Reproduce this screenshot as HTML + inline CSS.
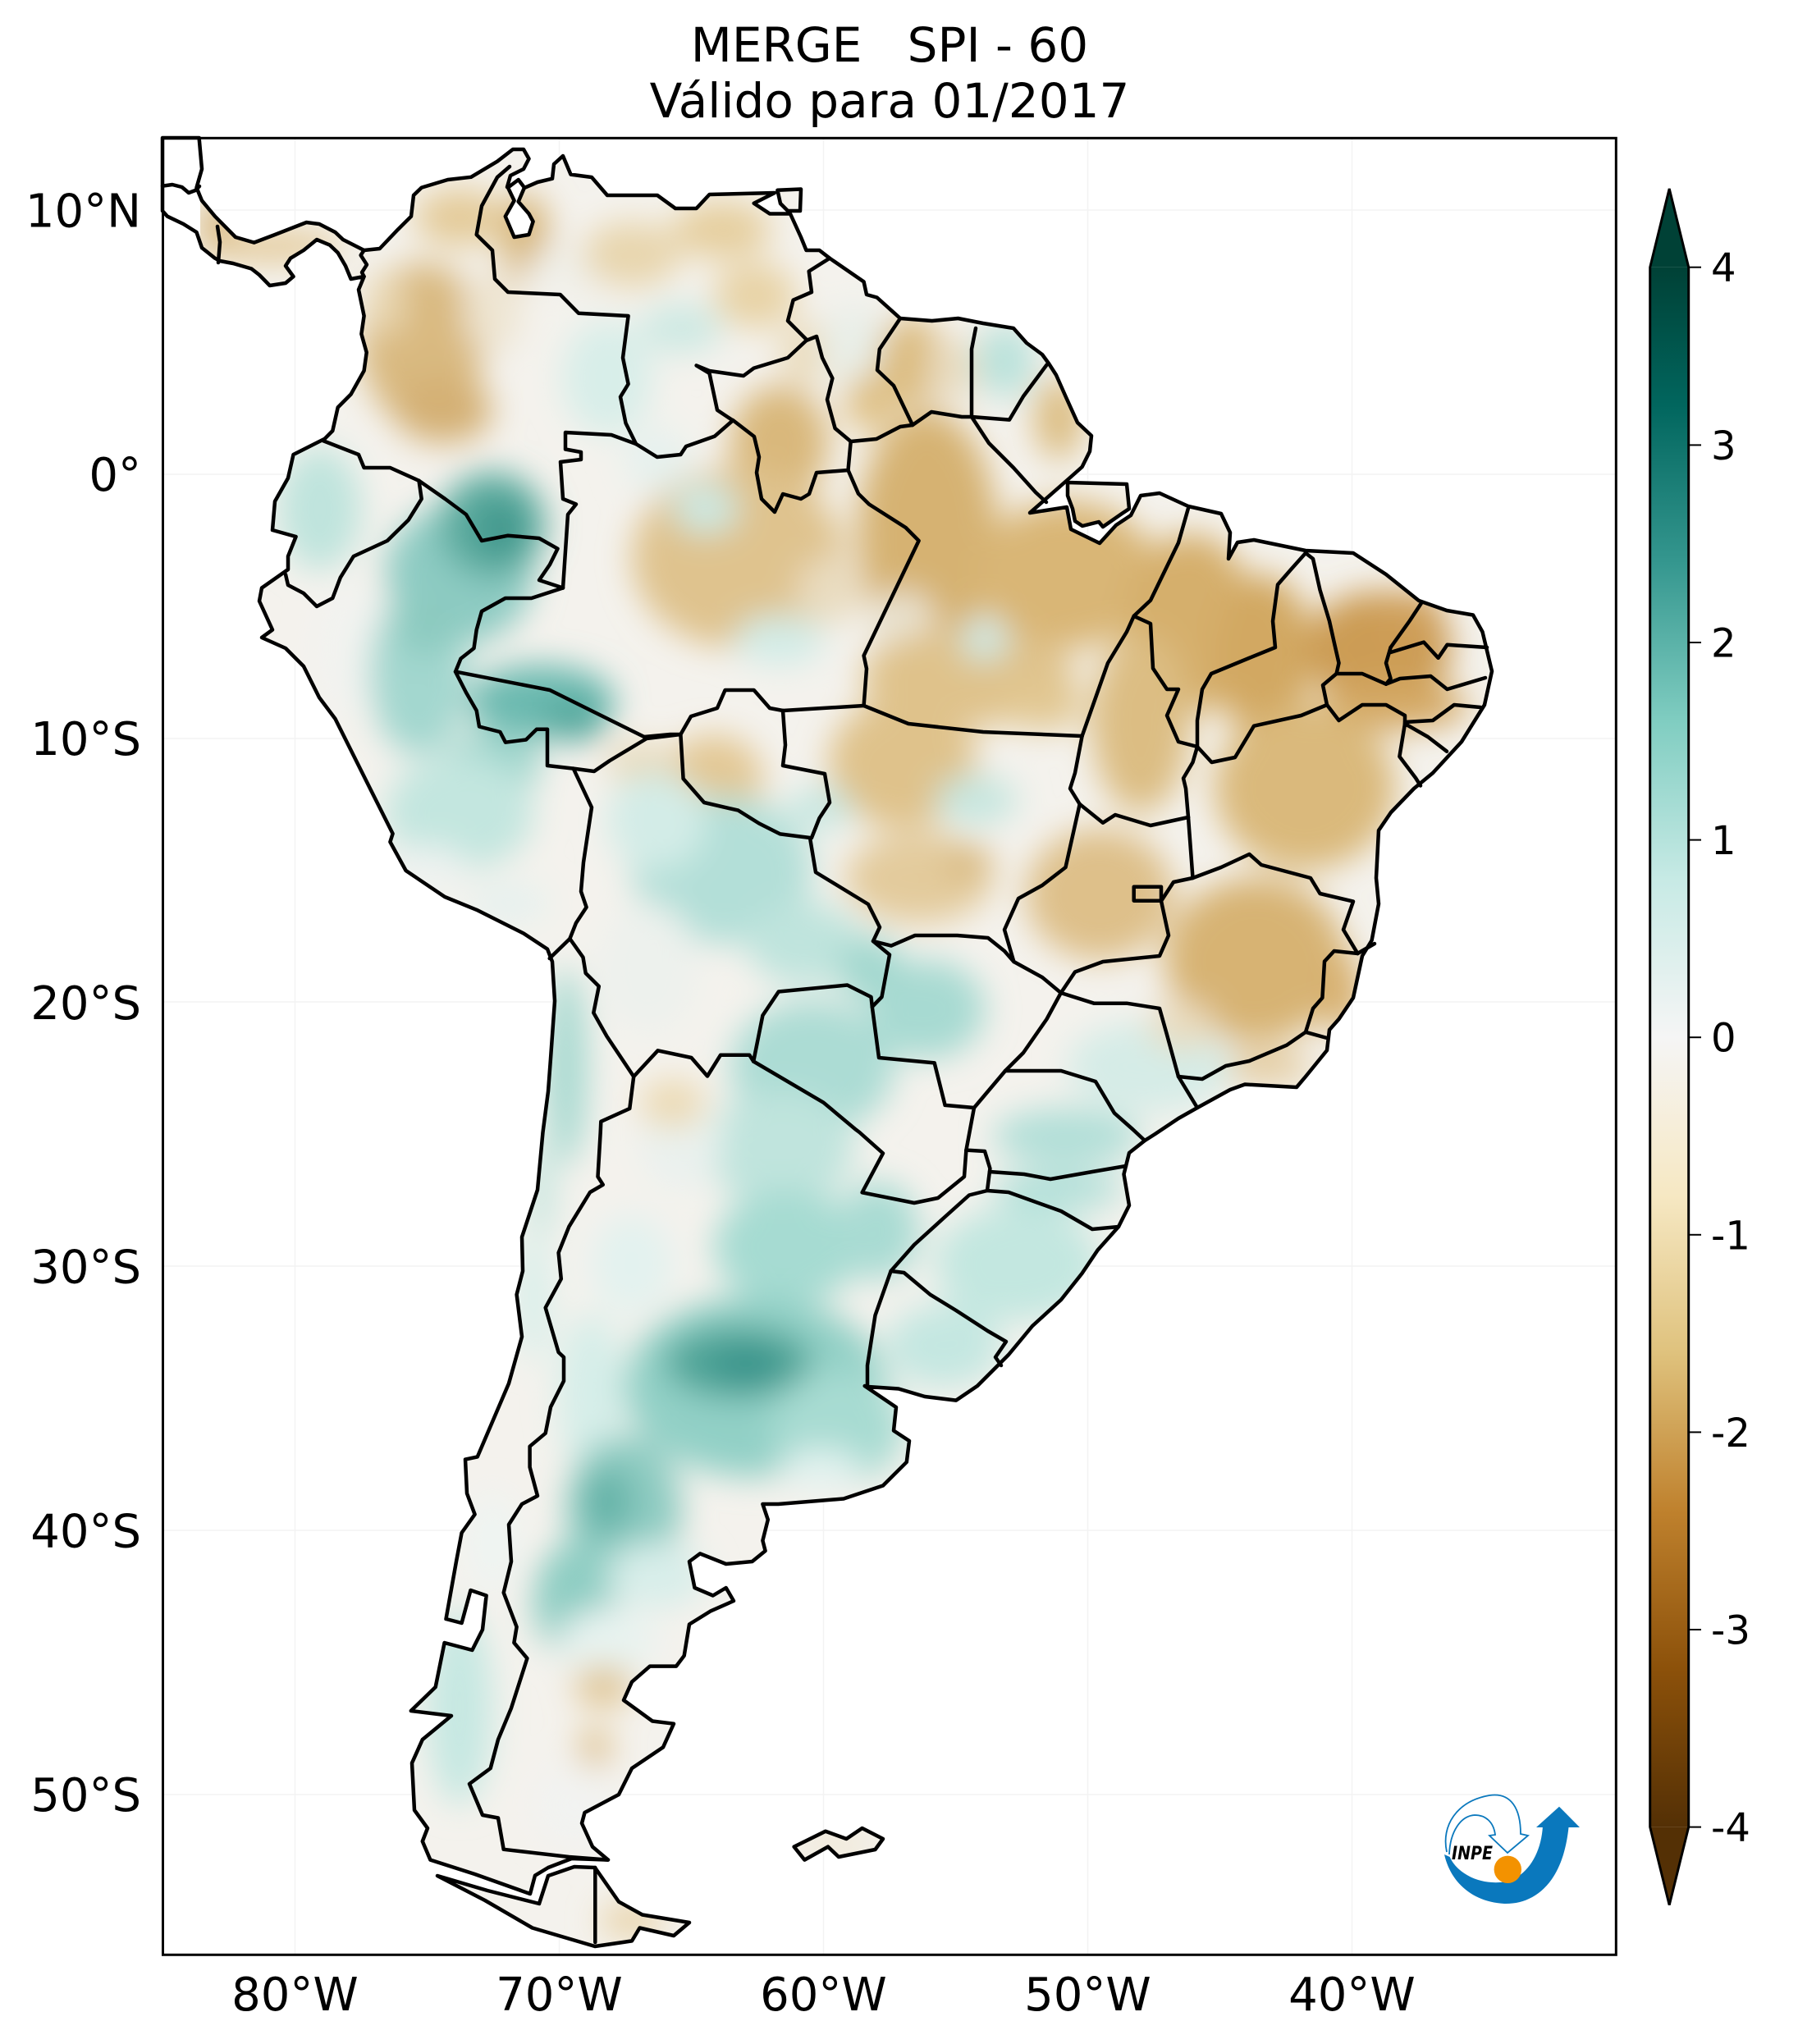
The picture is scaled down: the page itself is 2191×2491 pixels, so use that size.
<!DOCTYPE html>
<html><head><meta charset="utf-8"><style>
html,body{margin:0;padding:0;background:#fff;}
svg{display:block;}
text{font-family:"DejaVu Sans","Liberation Sans",sans-serif;fill:#000;}
</style></head><body>
<svg width="2191" height="2491" viewBox="0 0 2191 2491" xmlns="http://www.w3.org/2000/svg">
<defs>
<path id="land" d="M198,168 L242.6,168 246,206 239.5,228.6 246,244.5 262,263.7 287,289 309.6,295.6 335,286 373.4,271 389,273 408.5,283 418,292 443.6,305 462.7,303 485,279.6 501,263.7 504,238 513.7,228.6 545.6,219 574,215.8 606,196.7 625,182 638,182 644.5,193.5 638,206 622,214 618,228 632,232 655,222 673,217.7 675,200 686,190 695.5,212.6 721,216 740,238 801,238 823,254 848.6,254 864.5,237 944,235 918.7,247.7 938,260.5 963,260.5 976,289 982.5,305 998.5,305 1011,314.7 1052.6,343.4 1056,359 1068.6,362.5 1097,388 1135.6,391 1167.5,388 1198,394 1235,400 1251,418 1270,432 1278,443 1287,457 1298.5,483 1313,515 1330,531 1328,550 1318.6,569 1304,582 1255,625 1300,618 1305,645 1340,662 1360,640 1378,628 1390,604 1413,601 1448,617 1488,626 1499,649 1497,681 1508,661 1528,658 1591,671 1649,674 1689,700 1729,732 1763,744 1795,749.5 1806.5,770 1818,818 1809,859 1781,904 1746,942 1723,961 1695,990 1680,1012 1677,1070 1680,1101.5 1671.6,1146 1660,1165 1649,1216 1631.5,1242 1620,1255 1617,1280 1591,1312 1580,1325 1517,1321.5 1499,1328 1459,1350 1436,1363 1407.6,1382 1395,1390 1376,1405 1369.5,1431 1376,1469 1363,1495 1337.6,1523.5 1318.4,1552 1293,1584 1258,1616 1229,1651 1210,1670 1191,1689 1165,1706.6 1127,1702 1095,1692.5 1058,1690 1053.7,1689 1092,1715 1089,1743.5 1108,1756 1104.8,1781.8 1076,1810.5 1028,1826.5 948.5,1833 929.4,1833 935.8,1852 929.4,1877.5 932.6,1890 916.6,1903 884.7,1906 853,1893.4 840,1903 846.5,1935 868.8,1944.5 884.7,1935 894,1951 865.6,1963.6 840,1979.5 833.7,2017.8 824,2030.6 792,2030.6 770,2049.7 760,2072 795,2097.5 821,2100.7 808,2129.4 770,2155 754,2187 712.5,2209 709,2222 722,2250.6 741,2266.6 696.6,2265 668,2276 652,2285.7 646,2308 578.6,2284 524.4,2266.6 514.8,2244 521,2228 505,2206 502,2148.6 514.8,2120 550,2091 500.8,2085 530.7,2056 541.6,2002 575.4,2011 588,1986 592.6,1944.5 573.5,1938 562.6,1978 543.5,1973 556,1903 562.6,1868 578.6,1845.6 569,1820 567,1778.6 581.8,1775.4 620,1686 636,1629 629.6,1577.7 637,1549 636,1507.6 655,1450 661.5,1380 668,1330 671,1290 676,1220 673,1172 667,1156.6 638,1137.5 580.7,1108.8 542,1093 494.6,1061 475.4,1026 478.6,1016 453,965 408.5,876 389,850 370,812 348,790 319,777 332,767.5 316,732.5 319,716.5 351,694 351,678 360.6,654 332,646 335,611 351,582.6 357.5,554 395.7,534.7 405.3,525 411.7,496.5 427.6,480.5 443.6,451.8 446.7,429.5 440.4,407 443.6,384.9 437,353 443.6,337 427.6,340 421,324 411.7,308 402,298.7 386,292 370,305 354,314.7 348,324 357.5,337 348,345 328.7,348 316,335 306.4,327.5 284,321 268,318 262,314.7 246,302 239.5,283 223.5,273 204,263.7 198,257 Z"/>
<path id="tdf" d="M533,2286 L591,2316 648.7,2349.5 725,2372 770,2365.4 779.5,2349.5 821,2359 840,2343 782.7,2333.5 754,2317.6 725,2276 699.8,2275 668,2286 657,2320 594,2304 Z"/>
<path id="marajo" d="M1301,588 L1373,590 1376,620 1367,626 1344,642 1339,636 1319,641 1310,635 1307,620 1301,604 Z"/>
<path id="trin" d="M947.4,231.8 L976,230.5 975,257 960,257 951,248 Z"/>
<path id="falk" d="M967.6,2250.6 L1006,2231.7 1031.4,2241 1050.6,2228 1076,2241 1066.5,2254 1022,2263 1009,2250.6 980.4,2266.6 Z"/>
<clipPath id="landclip"><use href="#land"/><use href="#tdf"/><use href="#marajo"/><use href="#trin"/><use href="#falk"/></clipPath>
<filter id="blur" filterUnits="userSpaceOnUse" x="0" y="0" width="2191" height="2491"><feGaussianBlur stdDeviation="20"/></filter>
<linearGradient id="cb" x1="0" y1="0" x2="0" y2="1">
<stop offset="0" stop-color="#004136"/>
<stop offset="0.0886" stop-color="#01665e"/>
<stop offset="0.1899" stop-color="#35978f"/>
<stop offset="0.2911" stop-color="#80cdc1"/>
<stop offset="0.3924" stop-color="#c7eae5"/>
<stop offset="0.4937" stop-color="#f5f5f5"/>
<stop offset="0.5949" stop-color="#f6e8c3"/>
<stop offset="0.6962" stop-color="#dfc27d"/>
<stop offset="0.7975" stop-color="#bf812d"/>
<stop offset="0.8987" stop-color="#8c510a"/>
<stop offset="1" stop-color="#543005"/>
</linearGradient>
</defs>

<rect x="0" y="0" width="2191" height="2491" fill="#fff"/>

<g stroke="#f3f3f3" stroke-width="1.5" fill="none">
<line x1="359.5" y1="168" x2="359.5" y2="2382"/><line x1="681.5" y1="168" x2="681.5" y2="2382"/><line x1="1003.5" y1="168" x2="1003.5" y2="2382"/><line x1="1325.5" y1="168" x2="1325.5" y2="2382"/><line x1="1647.5" y1="168" x2="1647.5" y2="2382"/>
<line x1="198" y1="256" x2="1969" y2="256"/><line x1="198" y1="578" x2="1969" y2="578"/><line x1="198" y1="900" x2="1969" y2="900"/><line x1="198" y1="1221" x2="1969" y2="1221"/><line x1="198" y1="1543" x2="1969" y2="1543"/><line x1="198" y1="1865" x2="1969" y2="1865"/><line x1="198" y1="2187" x2="1969" y2="2187"/>
</g>

<g clip-path="url(#landclip)">
<rect x="190" y="160" width="1700" height="2230" fill="#f4f2ed"/>
<g filter="url(#blur)">
<ellipse cx="330" cy="300" rx="90" ry="18" fill="#e3c894"/>
<ellipse cx="265" cy="270" rx="20" ry="30" fill="#d6b274"/>
<ellipse cx="560" cy="265" rx="55" ry="35" fill="#e4cb99"/>
<ellipse cx="515" cy="420" rx="75" ry="100" fill="#d9b980"/>
<ellipse cx="540" cy="500" rx="60" ry="40" fill="#d4b075"/>
<ellipse cx="470" cy="370" rx="25" ry="40" fill="#e8d6b0"/>
<ellipse cx="640" cy="290" rx="30" ry="55" fill="#d8b77c"/>
<ellipse cx="600" cy="380" rx="35" ry="50" fill="#eee5d2"/>
<ellipse cx="700" cy="330" rx="60" ry="30" fill="#f0f0ea"/>
<ellipse cx="770" cy="310" rx="60" ry="40" fill="#e8d6ae"/>
<ellipse cx="880" cy="280" rx="60" ry="35" fill="#e6cf9f"/>
<ellipse cx="830" cy="400" rx="50" ry="30" fill="#cde9e3"/>
<ellipse cx="920" cy="360" rx="50" ry="40" fill="#e8d3a6"/>
<ellipse cx="980" cy="430" rx="30" ry="40" fill="#eadbbb"/>
<ellipse cx="1040" cy="420" rx="40" ry="50" fill="#e9efe9"/>
<ellipse cx="1060" cy="490" rx="30" ry="35" fill="#dfc083"/>
<ellipse cx="1110" cy="440" rx="40" ry="55" fill="#dcbc7f"/>
<ellipse cx="1160" cy="450" rx="30" ry="40" fill="#e8dbc0"/>
<ellipse cx="1225" cy="440" rx="35" ry="45" fill="#b9e2db"/>
<ellipse cx="1290" cy="510" rx="30" ry="50" fill="#dcbd82"/>
<ellipse cx="950" cy="540" rx="60" ry="70" fill="#d9b87b"/>
<ellipse cx="740" cy="460" rx="55" ry="70" fill="#d8eee9"/>
<ellipse cx="800" cy="560" rx="40" ry="40" fill="#e6f1ee"/>
<ellipse cx="900" cy="680" rx="130" ry="110" fill="#dfc38e"/>
<ellipse cx="860" cy="620" rx="40" ry="30" fill="#cce9e3"/>
<ellipse cx="950" cy="780" rx="55" ry="30" fill="#d2ece7"/>
<ellipse cx="1010" cy="720" rx="40" ry="40" fill="#e9dcc0"/>
<ellipse cx="1130" cy="650" rx="85" ry="150" fill="#d6b272"/>
<ellipse cx="1100" cy="760" rx="40" ry="40" fill="#e9e3d2"/>
<ellipse cx="1300" cy="700" rx="110" ry="90" fill="#d9b676"/>
<ellipse cx="1180" cy="825" rx="130" ry="60" fill="#dfc28b"/>
<ellipse cx="1270" cy="860" rx="50" ry="30" fill="#e2c893"/>
<ellipse cx="1200" cy="780" rx="30" ry="25" fill="#cfe9e4"/>
<ellipse cx="390" cy="620" rx="50" ry="75" fill="#bfe4dd"/>
<ellipse cx="560" cy="700" rx="90" ry="85" fill="#8dcbc2"/>
<ellipse cx="600" cy="640" rx="65" ry="65" fill="#5cab9f"/>
<ellipse cx="610" cy="645" rx="30" ry="35" fill="#3f978c"/>
<ellipse cx="430" cy="790" rx="45" ry="80" fill="#f2f3f0"/>
<ellipse cx="510" cy="820" rx="60" ry="100" fill="#a3d7cf"/>
<ellipse cx="520" cy="760" rx="40" ry="40" fill="#8ccac0"/>
<ellipse cx="660" cy="855" rx="90" ry="45" fill="#6cbab0"/>
<ellipse cx="700" cy="878" rx="40" ry="25" fill="#52a79c"/>
<ellipse cx="600" cy="930" rx="60" ry="40" fill="#9ed5cc"/>
<ellipse cx="560" cy="990" rx="90" ry="70" fill="#c3e6df"/>
<ellipse cx="520" cy="1060" rx="50" ry="30" fill="#eef2f0"/>
<ellipse cx="620" cy="1100" rx="50" ry="25" fill="#e6f1ee"/>
<ellipse cx="870" cy="950" rx="60" ry="55" fill="#e3c894"/>
<ellipse cx="780" cy="930" rx="40" ry="25" fill="#e8d9b8"/>
<ellipse cx="1100" cy="930" rx="90" ry="80" fill="#dfc28b"/>
<ellipse cx="1000" cy="985" rx="40" ry="25" fill="#c6e7e1"/>
<ellipse cx="1190" cy="975" rx="50" ry="30" fill="#c6e6df"/>
<ellipse cx="1120" cy="1070" rx="90" ry="55" fill="#e3cb9c"/>
<ellipse cx="1180" cy="1050" rx="30" ry="20" fill="#d8b87e"/>
<ellipse cx="880" cy="1060" rx="110" ry="90" fill="#b3dfd8"/>
<ellipse cx="800" cy="1000" rx="60" ry="60" fill="#d3ece7"/>
<ellipse cx="790" cy="1180" rx="60" ry="80" fill="#edf1ed"/>
<ellipse cx="980" cy="1150" rx="70" ry="50" fill="#bfe4dd"/>
<ellipse cx="990" cy="1300" rx="100" ry="80" fill="#acdcd4"/>
<ellipse cx="1130" cy="1230" rx="70" ry="60" fill="#a7dad2"/>
<ellipse cx="1060" cy="1180" rx="40" ry="40" fill="#a3d8cf"/>
<ellipse cx="1450" cy="760" rx="80" ry="110" fill="#d5af6c"/>
<ellipse cx="1540" cy="800" rx="60" ry="100" fill="#d2a862"/>
<ellipse cx="1680" cy="790" rx="90" ry="70" fill="#cc9c55"/>
<ellipse cx="1720" cy="750" rx="40" ry="30" fill="#cf9f5a"/>
<ellipse cx="1700" cy="860" rx="90" ry="30" fill="#d4a965"/>
<ellipse cx="1590" cy="960" rx="110" ry="100" fill="#dab97c"/>
<ellipse cx="1390" cy="880" rx="60" ry="110" fill="#dcbd83"/>
<ellipse cx="1340" cy="1090" rx="90" ry="80" fill="#dec08a"/>
<ellipse cx="1530" cy="1170" rx="110" ry="100" fill="#d7b373"/>
<ellipse cx="1635" cy="1210" rx="25" ry="50" fill="#d8b171"/>
<ellipse cx="1540" cy="1300" rx="60" ry="20" fill="#e3ca9c"/>
<ellipse cx="1400" cy="1300" rx="100" ry="55" fill="#d5ece7"/>
<ellipse cx="1440" cy="1250" rx="40" ry="30" fill="#e9dcbf"/>
<ellipse cx="1300" cy="1385" rx="90" ry="35" fill="#b2dfd8"/>
<ellipse cx="1290" cy="1450" rx="80" ry="25" fill="#b3e0d9"/>
<ellipse cx="1240" cy="1540" rx="100" ry="70" fill="#c3e7e0"/>
<ellipse cx="1150" cy="1640" rx="70" ry="50" fill="#c4e7e1"/>
<ellipse cx="950" cy="1400" rx="90" ry="70" fill="#c0e4dd"/>
<ellipse cx="830" cy="1390" rx="50" ry="60" fill="#eaf1ee"/>
<ellipse cx="820" cy="1345" rx="40" ry="30" fill="#ecdab4"/>
<ellipse cx="960" cy="1520" rx="90" ry="70" fill="#a6dbd2"/>
<ellipse cx="1070" cy="1500" rx="50" ry="60" fill="#a9dbd3"/>
<ellipse cx="920" cy="1690" rx="160" ry="110" fill="#92d0c6"/>
<ellipse cx="900" cy="1660" rx="90" ry="45" fill="#4fa498"/>
<ellipse cx="910" cy="1665" rx="40" ry="22" fill="#38938a"/>
<ellipse cx="1020" cy="1740" rx="80" ry="70" fill="#a7dbd2"/>
<ellipse cx="1000" cy="1790" rx="50" ry="25" fill="#e2f2ef"/>
<ellipse cx="720" cy="1700" rx="40" ry="100" fill="#d6eee9"/>
<ellipse cx="770" cy="1540" rx="50" ry="60" fill="#e3f2ef"/>
<ellipse cx="760" cy="1840" rx="70" ry="90" fill="#8dcbc1"/>
<ellipse cx="740" cy="1830" rx="30" ry="40" fill="#63b2a7"/>
<ellipse cx="700" cy="1950" rx="50" ry="70" fill="#8ecdc3"/>
<ellipse cx="800" cy="1920" rx="60" ry="40" fill="#d8eeea"/>
<ellipse cx="740" cy="2000" rx="60" ry="40" fill="#e8f3f0"/>
<ellipse cx="735" cy="2055" rx="35" ry="25" fill="#e0c592"/>
<ellipse cx="725" cy="2130" rx="20" ry="25" fill="#dfc390"/>
<ellipse cx="700" cy="2200" rx="50" ry="50" fill="#f2f3f1"/>
<ellipse cx="770" cy="2340" rx="40" ry="20" fill="#e8d2a6"/>
<ellipse cx="690" cy="1300" rx="25" ry="120" fill="#a6d9d0"/>
<ellipse cx="660" cy="1450" rx="15" ry="60" fill="#c2e5de"/>
<ellipse cx="650" cy="1580" rx="20" ry="80" fill="#d7efea"/>
<ellipse cx="560" cy="2080" rx="40" ry="120" fill="#c6e8e2"/>
<ellipse cx="600" cy="1880" rx="30" ry="60" fill="#eef4f2"/>
<ellipse cx="1020" cy="2248" rx="50" ry="15" fill="#efe6d2"/>
</g>
<rect x="196" y="166" width="48" height="160" fill="#fff"/>
</g>

<g fill="none" stroke="#000" stroke-width="4.5" stroke-linejoin="round" stroke-linecap="round">
<use href="#land"/>
<use href="#tdf"/>
<use href="#marajo"/>
<use href="#trin"/>
<use href="#falk"/>
<path d="M631.7,219 L639,228.6 631.7,245.8 644.5,260.5 649.6,270 644.5,286 626.6,289 615.8,263.7 626.6,244.5 619,228.6 Z" fill="#fff"/>
</g>

<g fill="none" stroke="#000" stroke-width="4.5" stroke-linejoin="round" stroke-linecap="round">
<polyline points="621,203 606,216 587,251 580.7,286 600,305 603,340 619,356 682.7,359 705,381.7 765.6,385 759,436 765.6,468 756,483.7 762.5,515.6 775,541"/>
<polyline points="775,541 745,530 689,527 689,547.5 708,551 708,560 683,563 686,608 702,614.5 692,627 686,716.5"/>
<polyline points="510.5,585.8 542.4,608 568,627 587,659 619,652.7 657,656 679.5,668.7 670,688 657,707 686,716.5"/>
<polyline points="392.5,536.6 437,554 443.6,570 475.4,570 510.5,585.8"/>
<polyline points="510.5,585.8 513.7,608 497.8,633.6 472,659 430.8,678 414.8,703.8 405.3,729 386,739 370,723 351,713 348,700"/>
<polyline points="1011,314.7 985.7,330.6 989,356 966.6,365.7 960,391 982.5,413.6"/>
<polyline points="775,541 800.7,557 829.4,554 836,544 871,531.6 893,512.4 874,499.7 864.5,455 848.6,445.4 864.5,452 906,458 918.7,448.6 960,436 982.5,415"/>
<polyline points="982.5,415 995,410 1002,436 1014.4,461 1008,487 1017.6,522 1036.7,538 1068,535 1097,520 1112,518"/>
<polyline points="1097,388 1071.8,425.5 1069,451 1089,470 1112,518"/>
<polyline points="1112,518 1135,502 1172,508 1184,508"/>
<polyline points="1184,508 1184,425.5 1189,400"/>
<polyline points="1184,508 1230,511.6 1247,483 1275.5,444.6"/>
<polyline points="686,716.5 647.6,729 615.8,729 587,745 580.7,767.5 577.5,790 561.5,802.6 555,818.6 568,844 580.7,866 584,885.5 609.4,892 616,904.7 641,901.5 654,888.7 667,888.7 667,933 698.7,936.6"/>
<polyline points="698.7,936.6 724,940 743,927 788,900 829.4,895 832.6,949 858,978 899.6,987.6 925,1003.5 950.6,1016.4 987,1021 994,1063 1058,1102 1072,1130 1064,1147 1084,1163.5 1074.5,1215 1062.8,1227"/>
<polyline points="698.7,936.6 721,984 711,1051 708,1086.4 714.6,1105.6 702,1124.7 694.4,1144"/>
<polyline points="694.4,1144 669.7,1168"/>
<polyline points="694.4,1144 710.5,1166.7 713.7,1186 729.8,1202 723.3,1234.3 739.5,1263 772.2,1312"/>
<polyline points="772.2,1312 801.6,1280.3 842.5,1289 862,1311.5 878,1285.8 913.3,1285.8 918.2,1293.5"/>
<polyline points="918.2,1293.5 929.4,1237.5 948.8,1208.5 1032.5,1200.5 1061.5,1215 1062.8,1227"/>
<polyline points="1062.8,1227 1071,1289 1138.7,1295.4 1151.6,1346.9 1187,1350 1177.4,1401.6"/>
<polyline points="918.2,1293.5 1003.5,1343.7 1042,1375.9 1047.4,1380 1076,1405.5 1050.6,1453.3 1114,1466 1143,1460 1175,1434 1177.4,1401.6"/>
<polyline points="1177.4,1401.6 1200,1403 1206.4,1424 1203,1451 1181,1456.5 1152.6,1482 1114,1517 1085.6,1549"/>
<polyline points="1085.6,1549 1066.5,1603 1057,1664 1057,1689"/>
<polyline points="1085.6,1549 1101.6,1551 1133.5,1577.7 1165,1597 1203.6,1622 1226,1635 1213,1654 1220,1664"/>
<polyline points="772.2,1312 767.3,1351 732.3,1366.8 731.7,1380 728.5,1434 734.8,1443.8 719,1453 693.4,1494.8 680.6,1526.7 683.8,1558.6 664.7,1593.7 680.6,1648 687,1654 687,1683 671,1714.8 664.7,1746.7 645.6,1762.7 645.6,1788 655,1823 636,1833 620,1858 623,1903 613.7,1941 629.6,1982.7 626.4,2002 642.4,2021 623,2081.6 607,2120 597.7,2155 572,2174 588,2212 607,2215.5 613.7,2253.8 693.4,2263 741,2266.6"/>
<polyline points="725.3,2276 725.3,2367"/>
<polyline points="265,276 268,295 266,320"/>
<polyline points="198,226.7 210,225 221.7,228 230,235 238,232 243,227"/>
<polyline points="443.6,305 439.6,311 447,322.6 441,332 443.6,337"/>
</g>

<g fill="none" stroke="#000" stroke-width="4.5" stroke-linejoin="round" stroke-linecap="round">
<polyline points="893,512 919,532 925,557 922,576 928,608 944,624 954,602 976,608 986,602 995,576 1033.5,573 1036.7,538"/>
<polyline points="1033.5,573 1046,601.7 1059,614.5 1103.7,643 1119.6,659 1052.6,799 1056,815 1052.6,860"/>
<polyline points="954,866 1052.6,860"/>
<polyline points="1052.6,860 1107,882 1198,892 1318.6,897"/>
<polyline points="785,898 816.7,895 829.4,895 842,873 874,863 883.6,841 918.7,841 938,863 954,866"/>
<polyline points="555,818.6 670,841 785,898"/>
<polyline points="954,866 957,908 954,933 1005,943 1011,978 998.5,997 989,1021"/>
<polyline points="1184,508 1205,540 1235,570 1262,600 1275,612"/>
<polyline points="1318.6,897 1338.7,840 1350,808 1373,770 1381.7,750.8"/>
<polyline points="1381.7,750.8 1402,731.6 1436,661.5 1447.8,620"/>
<polyline points="1381.7,750.8 1402,760 1405,814.5 1422,840 1436,840 1422,872 1436,904 1459,910"/>
<polyline points="1591,674 1574,693 1557,712.5 1551,757 1554,789 1522,802 1476,821 1465,840 1459,878 1459,910"/>
<polyline points="1591,674 1600,681 1608.5,719 1620,757 1625.7,782.6 1631.5,808 1628.6,821"/>
<polyline points="1732,735 1717.5,757 1694.6,789"/>
<polyline points="1694.6,789 1689,808 1694.6,827 1689,833.7"/>
<polyline points="1694.6,795 1735,782.6 1752.6,801.8 1763.5,785.8 1812,789"/>
<polyline points="1617,859 1612,835 1628.6,821 1660,821 1689,833.7"/>
<polyline points="1689,833.7 1706,827 1743.4,824 1763.5,840 1810,826"/>
<polyline points="1712,880 1746,878 1772,859 1804,862"/>
<polyline points="1617,859 1631.5,878 1660,859 1689,859 1712,872 1712,884.7"/>
<polyline points="1712,882 1705.4,922 1725,948 1731,957.5"/>
<polyline points="1712,882 1740,898 1763,915.7"/>
<polyline points="1459,910 1476.5,929 1505,923 1528,884.7 1585.5,872 1617,859"/>
<polyline points="1459,910 1453.5,929 1442,948.5 1445,961 1448,996"/>
<polyline points="1315.7,980 1344,1002.7 1359,993 1402,1006 1448,996"/>
<polyline points="1318.6,897 1310,942 1304,961 1315.7,980"/>
<polyline points="1315.7,980 1298.5,1057 1270,1079 1241,1095 1224,1133 1235.4,1172"/>
<polyline points="1448,996 1453.5,1070"/>
<polyline points="1453.5,1070 1430,1075 1415,1098 1424,1140 1413,1165 1344,1172 1310,1184.5 1292.8,1210"/>
<polyline points="1064,1147 1086,1152.6 1115,1140 1166.5,1140 1204,1143 1224,1159 1235.4,1172"/>
<polyline points="1235.4,1172 1270,1191 1292.8,1210"/>
<polyline points="1292.8,1210 1333,1222.7 1373,1222.7 1413,1229 1422,1261 1436,1312"/>
<polyline points="1292.8,1210 1275.5,1242 1247,1283 1225,1305"/>
<polyline points="1225,1305 1187,1350"/>
<polyline points="1225,1305 1293,1305 1335,1318 1358,1356.6 1380,1376 1395,1390"/>
<polyline points="1436,1312 1459,1350"/>
<polyline points="1436,1312 1465,1315 1493.7,1299 1522.4,1293 1568,1273.7 1591,1257.8"/>
<polyline points="1591,1257.8 1617,1265"/>
<polyline points="1591,1257.8 1600,1229 1611.4,1216 1614,1171.7 1625.7,1159 1654.4,1162"/>
<polyline points="1654.4,1162 1675,1150"/>
<polyline points="1453.5,1070 1488,1057 1522.4,1041 1537,1054 1597,1070 1608.5,1089 1649,1098.6 1637,1133 1654.4,1162"/>
<polygon points="1381.7,1080.7 1415,1080.7 1415,1097.7 1381.7,1097.7"/>
<polyline points="1206,1428 1248,1431 1280,1437 1331,1428 1372,1421"/>
<polyline points="1203,1451 1229,1453 1293,1476 1331,1498 1363,1495"/>
</g>

<g>
<path d="M1760,2260 C1768,2295 1795,2318 1833,2320 C1870,2321 1905,2295 1911.7,2225 L1880,2225 C1878,2262 1858,2292 1828,2294 C1800,2296 1775,2282 1766.7,2263 Z" fill="#0a78bd"/>
<polygon points="1872,2227 1900,2201.7 1925,2227" fill="#0a78bd"/>
<path d="M1763,2257 C1756,2225 1775,2195 1815,2188 C1842,2184 1853,2205 1853,2235 L1862,2237 L1837,2258 L1815,2237 L1822,2236 C1820,2220 1810,2212 1797,2212 C1780,2213 1767,2232 1766,2260" fill="none" stroke="#0a78bd" stroke-width="1.8"/>
<circle cx="1837.3" cy="2278.3" r="16.7" fill="#f39200"/>
<text x="1769" y="2266" font-size="22" font-weight="bold" font-style="italic" textLength="50" lengthAdjust="spacingAndGlyphs">INPE</text>
</g>

<rect x="198.5" y="168.3" width="1770.8" height="2214" fill="none" stroke="#000" stroke-width="3"/>

<text x="1084" y="75" font-size="58" text-anchor="middle" style="white-space:pre">MERGE   SPI - 60</text>
<text x="1084" y="143" font-size="58" text-anchor="middle">Válido para 01/2017</text>

<g font-size="56" text-anchor="end">
<text x="172" y="276.4">10°N</text>
<text x="172" y="598.2">0°</text>
<text x="172" y="920">10°S</text>
<text x="172" y="1241.8">20°S</text>
<text x="172" y="1563.6">30°S</text>
<text x="172" y="1885.4">40°S</text>
<text x="172" y="2207.2">50°S</text>
</g>
<g font-size="56" text-anchor="middle">
<text x="359.5" y="2450">80°W</text>
<text x="681.5" y="2450">70°W</text>
<text x="1003.5" y="2450">60°W</text>
<text x="1325.5" y="2450">50°W</text>
<text x="1647.5" y="2450">40°W</text>
</g>

<rect x="2010.7" y="325.7" width="47" height="1900.9" fill="url(#cb)"/>
<polygon points="2010.7,325.7 2034.2,230 2057.7,325.7" fill="#004136"/>
<polygon points="2010.7,2226.6 2034.2,2321.7 2057.7,2226.6" fill="#543005"/>
<path d="M2010.7,325.7 L2034.2,230 L2057.7,325.7 L2057.7,2226.6 L2034.2,2321.7 L2010.7,2226.6 Z" fill="none" stroke="#000" stroke-width="3" stroke-linejoin="miter"/>
<g stroke="#000" stroke-width="2">
<line x1="2057.7" y1="325.7" x2="2073" y2="325.7"/>
<line x1="2057.7" y1="542.4" x2="2073" y2="542.4"/>
<line x1="2057.7" y1="783" x2="2073" y2="783"/>
<line x1="2057.7" y1="1023.6" x2="2073" y2="1023.6"/>
<line x1="2057.7" y1="1264.2" x2="2073" y2="1264.2"/>
<line x1="2057.7" y1="1504.8" x2="2073" y2="1504.8"/>
<line x1="2057.7" y1="1745.4" x2="2073" y2="1745.4"/>
<line x1="2057.7" y1="1986" x2="2073" y2="1986"/>
<line x1="2057.7" y1="2226.6" x2="2073" y2="2226.6"/>
</g>
<g font-size="48" text-anchor="start">
<text x="2085" y="343.2">4</text>
<text x="2085" y="559.9">3</text>
<text x="2085" y="800.5">2</text>
<text x="2085" y="1041.1">1</text>
<text x="2085" y="1281.7">0</text>
<text x="2085" y="1522.3">-1</text>
<text x="2085" y="1762.9">-2</text>
<text x="2085" y="2003.5">-3</text>
<text x="2085" y="2244.1">-4</text>
</g>
</svg>
</body></html>
